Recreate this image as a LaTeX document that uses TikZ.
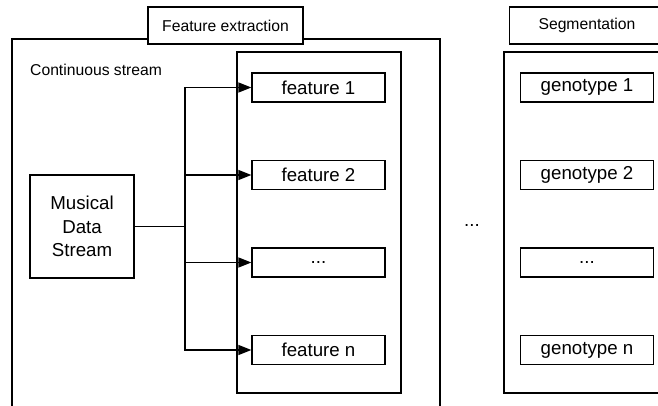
\documentclass[tikz,border=0pt]{standalone}
\usepackage{fontspec}
\setmainfont{Liberation Sans}
\usetikzlibrary{arrows.meta}

\tikzset{
  box/.style={draw,line width=1.3pt,fill=white,inner sep=0pt},
  item/.style={box,minimum width=133pt,minimum height=29pt,font=\fontsize{18.7}{22}\selectfont},
  title/.style={box,minimum width=155pt,minimum height=37pt,font=\fontsize{15.7}{19}\selectfont},
  panel/.style={box,minimum height=341pt},
  wire/.style={line width=1.3pt},
  feed/.style={wire,-{Triangle[length=13pt,width=10pt]}}
}

\begin{document}
\begin{tikzpicture}[x=1pt,y=-1pt]
        \useasboundingbox (0,0) rectangle (658,405);
        \clip (0,0) rectangle (658,405);
        % feature extraction block
        \node[box,minimum width=428pt,minimum height=400pt] (extract) at (226,239) {};
        \node[title] (extracttitle) at (225.5,25.5) {Feature extraction};
        \node[anchor=west,inner sep=0pt,font=\fontsize{15.7}{19}\selectfont] (cont) at (30,70) {Continuous stream};
        \node[box,align=center,minimum width=104pt,minimum height=103pt,
              font=\fontsize{18.7}{23.5}\selectfont] (stream) at (82,226.5) {Musical\\Data\\Stream};
        \node[panel,minimum width=164pt] (features) at (319,222.5) {};
        \node[item] (feat1) at (318.5,87.5) {feature 1};
        \node[item] (feat2) at (318.5,175) {feature 2};
        \node[item] (feat3) at (318.5,262.5) {...};
        \node[item] (featn) at (318.5,350) {feature n};
        % segmentation block
        \node[title] (segtitle) at (587,25.5) {Segmentation};
        \node[panel,minimum width=166pt] (genotypes) at (587,222.5) {};
        \node[item] (geno1) at (587,87.5) {genotype 1};
        \node[item] (geno2) at (587,175) {genotype 2};
        \node[item] (geno3) at (587,262.5) {...};
        \node[item] (genon) at (587,350) {genotype n};
        \node[font=\fontsize{18.7}{22}\selectfont] (gap) at (472,225) {...};
        % connections
        \coordinate (bus) at (185,0);
        \draw[wire] (stream.east) -- (stream.east -| bus);
        \draw[feed] (bus |- feat1) |- (featn);
        \draw[feed] (bus |- featn) |- (feat1);
        \draw[feed] (bus |- feat2) -- (feat2);
        \draw[feed] (bus |- feat3) -- (feat3);
\end{tikzpicture}
\end{document}
